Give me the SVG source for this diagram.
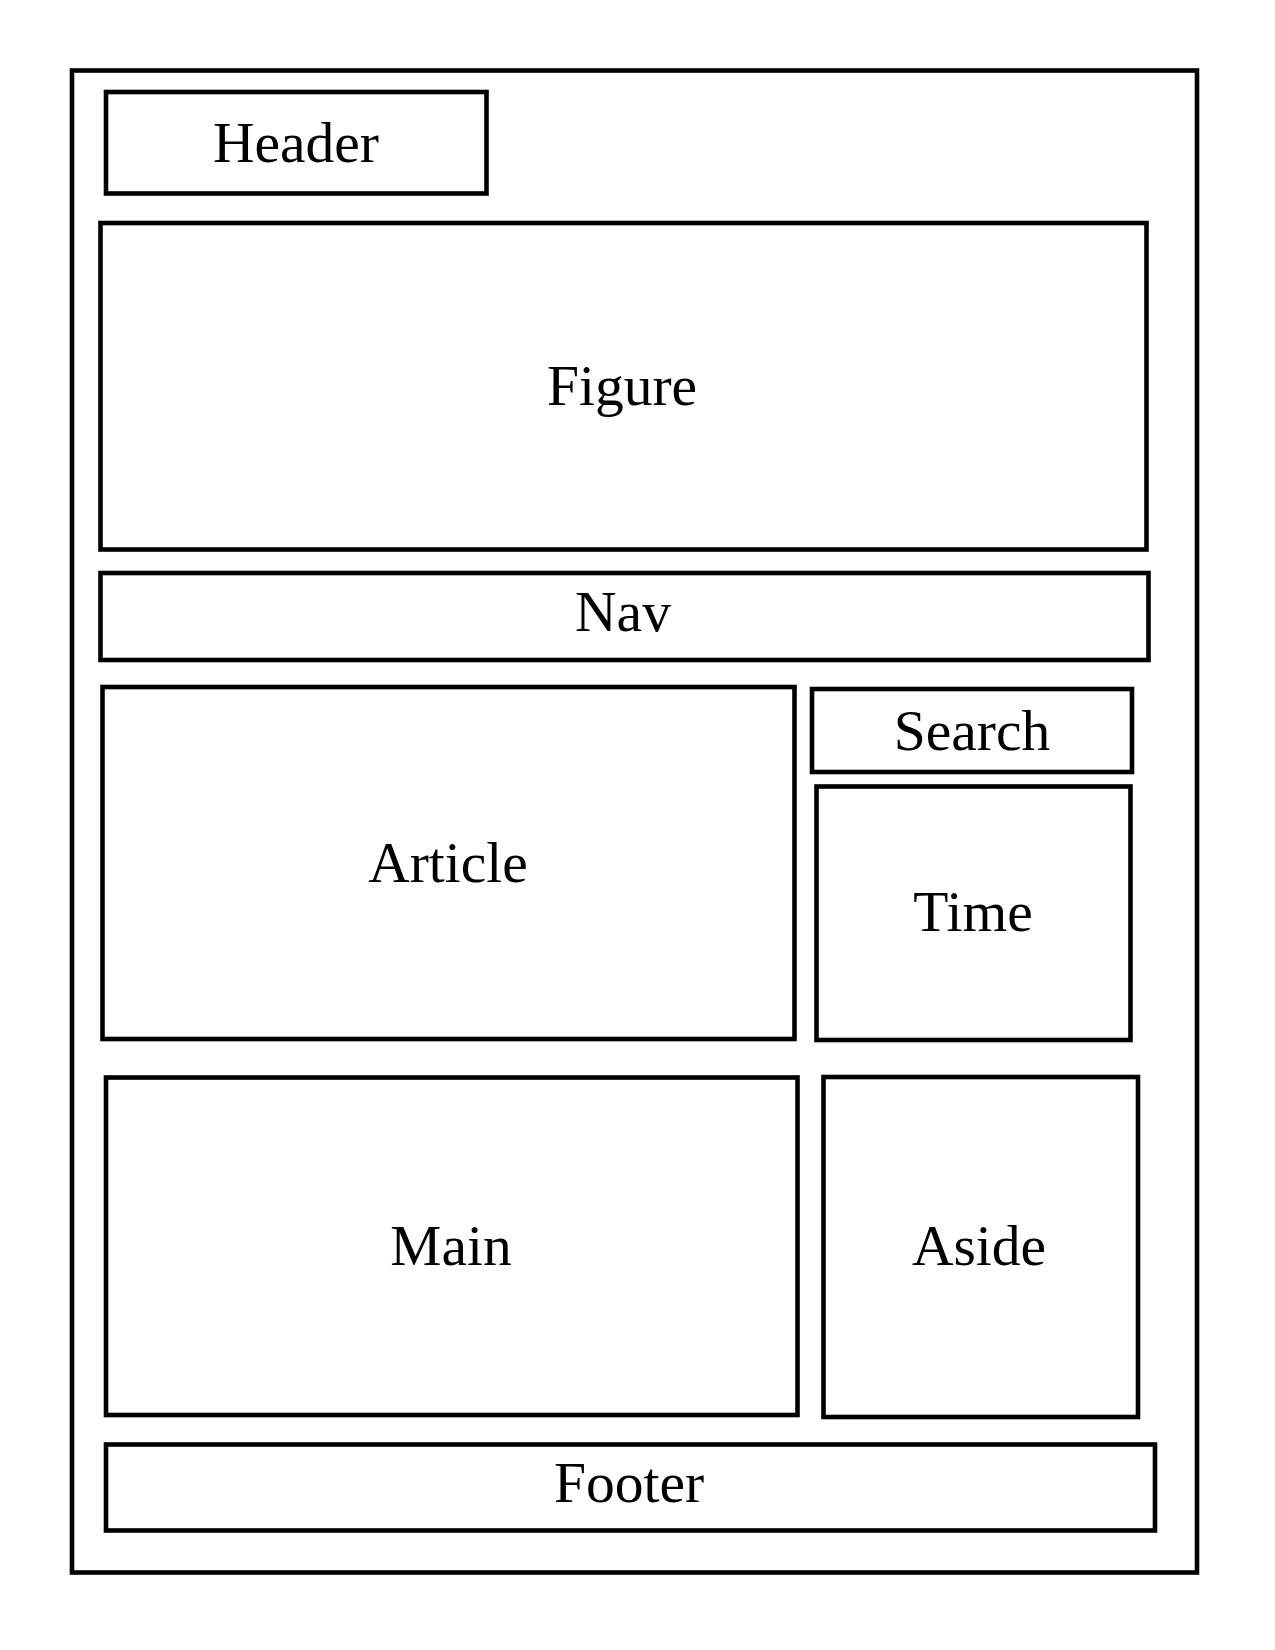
<svg xmlns="http://www.w3.org/2000/svg" width="1275" height="1650" viewBox="0 0 1275 1650">
<style>
.box{fill:none;stroke:#000;stroke-width:4.6}
.lbl{font-family:"Liberation Serif","Times New Roman",serif;font-size:57.5px;fill:#000;text-anchor:middle}
</style>
<rect width="1275" height="1650" fill="#fff"/>
<g id="page"><rect class="box" x="72" y="70.5" width="1125" height="1502"/></g>
<g id="header"><rect class="box" x="106" y="92" width="380.5" height="101.5"/><text class="lbl" x="296" y="162">Header</text></g>
<g id="figure"><rect class="box" x="100.5" y="223" width="1046" height="326.5"/><text class="lbl" x="622" y="405">Figure</text></g>
<g id="nav"><rect class="box" x="100.5" y="573" width="1048" height="87"/><text class="lbl" x="623" y="631">Nav</text></g>
<g id="article"><rect class="box" x="102.5" y="687" width="692" height="352"/><text class="lbl" x="448" y="882">Article</text></g>
<g id="search"><rect class="box" x="812" y="689" width="320" height="83"/><text class="lbl" x="972" y="750">Search</text></g>
<g id="time"><rect class="box" x="816.5" y="786.5" width="314" height="253.5"/><text class="lbl" x="973" y="931">Time</text></g>
<g id="main"><rect class="box" x="106" y="1077.5" width="691.5" height="337.5"/><text class="lbl" x="451" y="1265">Main</text></g>
<g id="aside"><rect class="box" x="823.5" y="1077" width="314.5" height="340"/><text class="lbl" x="979" y="1265">Aside</text></g>
<g id="footer"><rect class="box" x="106" y="1444.5" width="1049" height="86"/><text class="lbl" x="629" y="1502">Footer</text></g>
<g id="connectors"></g>
</svg>
